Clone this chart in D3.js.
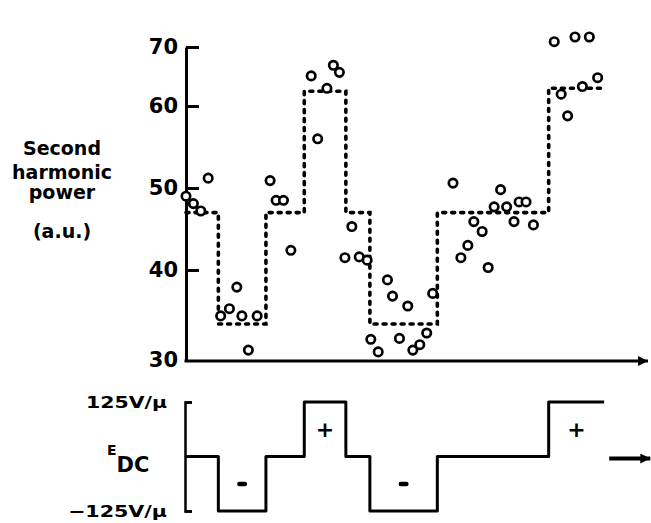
<!DOCTYPE html>
<html>
<head>
<meta charset="utf-8">
<script src="https://cdn.jsdelivr.net/npm/d3@7"></script>
<style>
body { margin: 0; background: #fff; }
text { font-family: "DejaVu Sans", sans-serif; font-weight: bold; fill: #000; }
</style>
</head>
<body>
<div id="chart"></div>
<script>
// measured second harmonic power (time in arbitrary units, power in a.u.)
var pointTime = [0.0, 1.6, 3.2, 4.8, 7.5, 9.4, 11.0, 12.1, 13.5, 15.4,
	18.2, 19.5, 21.1, 22.7, 27.1, 28.5, 30.5, 31.9, 33.2, 34.4,
	35.9, 37.5, 39.2, 40.0, 41.6, 43.6, 44.7, 46.2, 48.0, 49.1,
	50.6, 52.1, 53.4, 57.8, 59.5, 61.0, 62.3, 64.1, 65.4, 66.7,
	68.1, 69.4, 71.0, 72.1, 73.6, 75.2, 79.7, 81.2, 82.6, 84.2,
	85.8, 87.3, 89.1];
var pointPower = [49.0, 48.1, 47.2, 51.2, 34.9, 35.7, 38.1, 34.9, 31.1, 34.9,
	50.9, 48.5, 48.5, 42.4, 65.1, 56.0, 63.0, 66.9, 65.7, 41.5,
	45.3, 41.6, 41.2, 32.3, 30.9, 38.9, 37.1, 32.4, 36.0, 31.1,
	31.7, 33.0, 37.4, 50.6, 41.5, 43.0, 45.9, 44.7, 40.3, 47.7,
	49.8, 47.7, 45.9, 48.3, 48.3, 45.5, 70.9, 62.0, 58.8, 71.7,
	63.3, 71.7, 64.8];

// switching times of the applied field, shared by both panels
var stepEdges = [0, 7, 17.3, 25.6, 34.6, 39.8, 54.4, 78.5, 90.5];
var powerLevels = [47, 34, 47, 62.5, 47, 34, 47, 63];
var fieldLevels = [0, -125, 0, 125, 0, -125, 0, 125];

var yTicks = [30, 40, 50, 60, 70];
var fieldTicks = [-125, 125];
var fieldTickLabels = ["\u2212125V/\u03bc", "125V/\u03bc"];
var yLabelLines = ["Second", "harmonic", "power", "(a.u.)"];

var width = 651, height = 523;

var svg = d3.select("#chart").append("svg")
	.attr("width", width)
	.attr("height", height);

var defs = svg.append("defs");
defs.append("marker")
	.attr("id", "arrow")
	.attr("viewBox", "0 0 10 10")
	.attr("refX", 10).attr("refY", 5)
	.attr("markerUnits", "userSpaceOnUse")
	.attr("markerWidth", 16).attr("markerHeight", 10)
	.attr("orient", "auto")
	.append("path")
	.attr("d", "M0,0 L10,5 L0,10 Z")
	.attr("fill", "#000");

// scales (the printed power axis is not evenly spaced, so piecewise)
var x = d3.scaleLinear().domain([0, 100]).range([186, 648]);
var y = d3.scaleLinear().domain(yTicks).range([360, 270, 188, 106, 47]);
var e = d3.scaleLinear().domain([-125, 125]).range([511, 402]);

// power axis
var yAxis = svg.append("g")
	.attr("transform", "translate(" + x(0) + ",0)")
	.call(d3.axisLeft(y).tickValues(yTicks.slice(1))
		.tickSizeInner(-13).tickSizeOuter(0).tickPadding(8)
		.tickFormat(d3.format("d")));
yAxis.select(".domain").attr("stroke-width", 3);
yAxis.selectAll(".tick line").attr("stroke-width", 3);
yAxis.selectAll(".tick text").style("font-size", "21px")
	.style("font-family", "'DejaVu Sans', sans-serif").style("font-weight", "bold");
// the "30" sits at the corner
svg.append("text")
	.attr("x", x(0) - 8).attr("y", y(30))
	.attr("dy", "0.32em")
	.attr("text-anchor", "end")
	.style("font-size", "21px")
	.text(yTicks[0]);

// time axis with arrow
svg.append("line")
	.attr("x1", x(0) - 1.5).attr("x2", x(100))
	.attr("y1", y(30) + 1).attr("y2", y(30) + 1)
	.attr("stroke", "#000").attr("stroke-width", 3)
	.attr("marker-end", "url(#arrow)");

// y label
svg.append("g").selectAll("text")
	.data(yLabelLines)
	.join("text")
	.attr("x", 62)
	.attr("y", function(d, i){ return [155, 179, 199, 238][i]; })
	.attr("text-anchor", "middle")
	.style("font-size", "19px")
	.text(function(d){ return d; });

// step function of the expected power
function stepPoints(levels){
	var pts = [];
	levels.forEach(function(v, i){
		pts.push([stepEdges[i], v]);
		pts.push([stepEdges[i + 1], v]);
	});
	return pts;
}
var stepLine = d3.line()
	.x(function(d){ return x(d[0]); })
	.y(function(d){ return y(d[1]); });
svg.append("path")
	.datum(stepPoints(powerLevels))
	.attr("d", stepLine)
	.attr("fill", "none")
	.attr("stroke", "#000")
	.attr("stroke-width", 3.6)
	.attr("stroke-linecap", "round")
	.attr("stroke-dasharray", "3,6");

// measured points
svg.append("g").selectAll("circle")
	.data(d3.range(pointTime.length))
	.join("circle")
	.attr("cx", function(i){ return x(pointTime[i]); })
	.attr("cy", function(i){ return y(pointPower[i]); })
	.attr("r", 4.2)
	.attr("fill", "#fff")
	.attr("stroke", "#000")
	.attr("stroke-width", 2.7);

// field panel
var eAxis = svg.append("g")
	.attr("transform", "translate(" + (x(0) - 1) + ",0)")
	.call(d3.axisLeft(e).tickValues(fieldTicks)
		.tickSizeInner(-7).tickSizeOuter(-7).tickPadding(18)
		.tickFormat(function(d, i){ return fieldTickLabels[i]; }));
eAxis.select(".domain").attr("stroke-width", 2.5);
eAxis.selectAll(".tick line").attr("stroke-width", 2.5);
eAxis.selectAll(".tick text")
	.style("font-size", "16px")
	.style("font-family", "'DejaVu Sans', sans-serif").style("font-weight", "bold")
	.attr("textLength", function(d){ return d < 0 ? 99 : 81; })
	.attr("lengthAdjust", "spacingAndGlyphs");

var fieldLine = d3.line()
	.x(function(d){ return x(d[0]); })
	.y(function(d){ return e(d[1]); });
svg.append("path")
	.datum(stepPoints(fieldLevels))
	.attr("d", fieldLine)
	.attr("fill", "none")
	.attr("stroke", "#000")
	.attr("stroke-width", 3)
	.attr("stroke-linejoin", "round");

// + and - marks in the poled intervals
var signs = [];
fieldLevels.forEach(function(v, i){
	if(v !== 0) signs.push({t: (stepEdges[i] + stepEdges[i + 1]) / 2, v: v});
});
svg.append("g").selectAll("text")
	.data(signs.filter(function(d){ return d.v > 0; }))
	.join("text")
	.attr("x", function(d){ return x(d.t); })
	.attr("y", function(d){ return e(d.v / 2); })
	.attr("dy", "0.35em")
	.attr("text-anchor", "middle")
	.style("font-size", "22px")
	.text("+");
svg.append("g").selectAll("rect")
	.data(signs.filter(function(d){ return d.v < 0; }))
	.join("rect")
	.attr("x", function(d){ return x(d.t) - 5; })
	.attr("y", function(d){ return e(d.v / 2) - 2; })
	.attr("width", 10).attr("height", 4.5)
	.attr("rx", 2.2)
	.attr("fill", "#000");

// E_DC label
var eLabel = svg.append("text").attr("x", 107).attr("y", 472);
eLabel.append("tspan").attr("dy", -17).style("font-size", "14px").text("E");
eLabel.append("tspan").attr("dy", 17).style("font-size", "21px").text("DC");

// time arrow of the field panel
svg.append("line")
	.attr("x1", x(91.6)).attr("x2", x(100.5))
	.attr("y1", e(0) + 2).attr("y2", e(0) + 2)
	.attr("stroke", "#000").attr("stroke-width", 4)
	.attr("marker-end", "url(#arrow)");
</script>
</body>
</html>
